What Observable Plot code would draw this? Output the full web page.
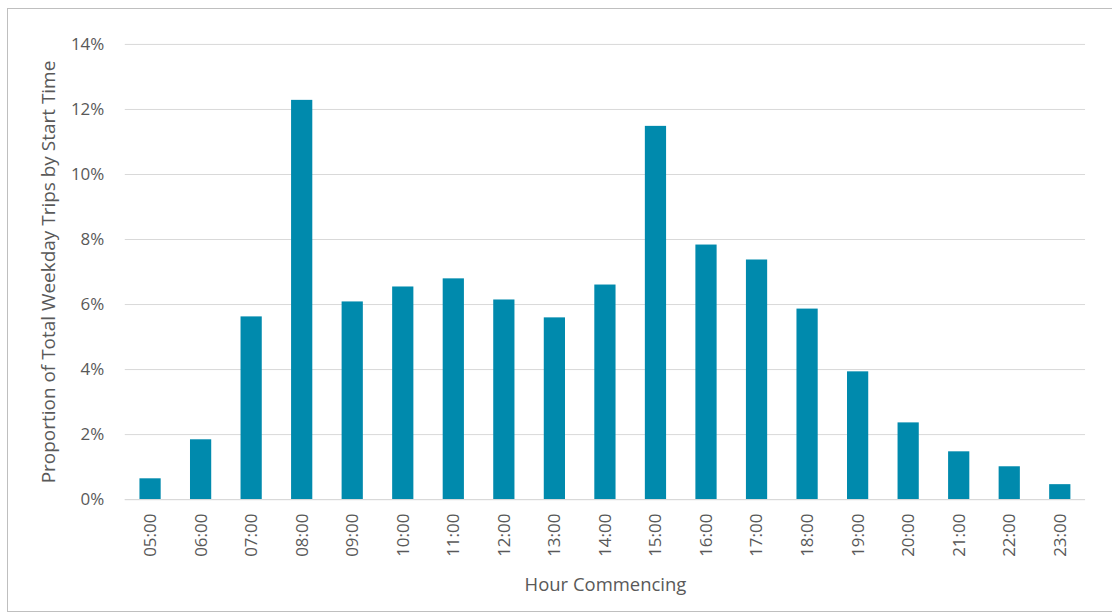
<!DOCTYPE html>
<html>
<head>
<meta charset="utf-8">
<script src="https://cdn.jsdelivr.net/npm/d3@7"></script>
<script src="https://cdn.jsdelivr.net/npm/@observablehq/plot@0.6"></script>
<style>
  html, body { margin: 0; padding: 0; background: #fff; overflow: hidden; }
  #chart { position: absolute; left: 7px; top: 8px; width: 1110px; height: 604px; border: 1px solid #bfbfbf; box-sizing: border-box; overflow: hidden; }
  #chart svg { position: absolute; left: 0; top: 0; }
</style>
</head>
<body>
<div id="chart"></div>
<script>
const hours = ["05:00","06:00","07:00","08:00","09:00","10:00","11:00","12:00","13:00","14:00","15:00","16:00","17:00","18:00","19:00","20:00","21:00","22:00","23:00"];
const shares = [0.0064,0.0184,0.0562,0.1228,0.0608,0.0654,0.0679,0.0614,0.0559,0.0660,0.1148,0.0783,0.0737,0.0586,0.0393,0.0236,0.0147,0.0101,0.0046];
const yTicks = [0,0.02,0.04,0.06,0.08,0.10,0.12,0.14];
const xTitle = "Hour Commencing";
const yTitle = "Proportion of Total Weekday Trips by Start Time";

const data = hours.map((h, i) => ({hour: h, share: shares[i]}));

const chart = Plot.plot({
  width: 1110,
  height: 604,
  marginLeft: 117,
  marginRight: 31,
  marginTop: 35,
  marginBottom: 113,
  style: {fontFamily: "'Open Sans', sans-serif", fontSize: "17px", color: "#595959", background: "transparent"},
  x: {domain: hours, paddingInner: 0.58, paddingOuter: 0.29, round: false, label: null},
  y: {domain: [0, 0.14], label: null},
  marks: [
    Plot.gridY(yTicks, {stroke: "#d9d9d9", strokeOpacity: 1, strokeWidth: 1}),
    Plot.barY(data, {x: "hour", y: "share", fill: "#008aad"}),
    Plot.ruleY([0], {stroke: "#d9d9d9", strokeWidth: 1}),
    Plot.axisY(yTicks, {tickSize: 0, tickPadding: 21, tickFormat: d => Math.round(d * 100) + "%", fill: "#595959", fontSize: 17}),
    Plot.axisY(yTicks, {tickSize: 0, ticks: [], tickFormat: () => "", fill: "#595959",
      label: yTitle, labelAnchor: "center", labelArrow: "none", labelOffset: 84, fontSize: 19}),
    Plot.axisX({tickSize: 0, tickPadding: 14, tickRotate: -90, fill: "#595959", fontSize: 17}),
    Plot.axisX({tickSize: 0, ticks: [], tickFormat: () => "", fill: "#595959",
      label: xTitle, labelAnchor: "center", labelArrow: "none", labelOffset: 92, fontSize: 18.5})
  ]
});
document.getElementById("chart").appendChild(chart);
</script>
</body>
</html>
